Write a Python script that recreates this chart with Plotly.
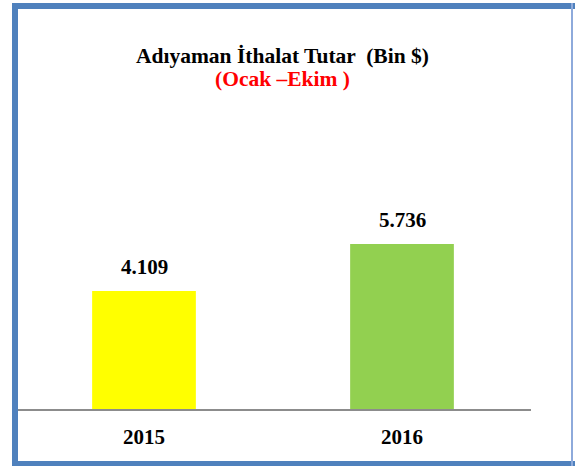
import plotly.graph_objects as go

years = ["2015", "2016"]
values = [4.109, 5.736]
value_labels = ["4.109", "5.736"]
bar_colors = ["#FFFF00", "#92D050"]

W, H = 575, 466
L, R_EDGE, T, B_EDGE = 15, 531, 100, 409
PW, PH = R_EDGE - L, B_EDGE - T

def px(x):
    return (x - L) / PW

def py(y):
    return (B_EDGE - y) / PH

fig = go.Figure()
fig.add_trace(go.Bar(x=years, y=values, marker=dict(color=bar_colors, line=dict(width=0)),
                     width=0.402, hoverinfo="skip"))

font_serif = "Liberation Serif, Times New Roman, serif"

for i, (v, lab) in enumerate(zip(values, value_labels)):
    fig.add_annotation(x=i, y=v, text="<b>%s</b>" % lab, showarrow=False,
                       yanchor="bottom", yshift=10,
                       font=dict(family=font_serif, size=21, color="black"))

fig.add_annotation(xref="paper", yref="paper", x=px(282), y=py(56), text="<b>Adıyaman İthalat Tutar  (Bin $)</b>",
                   showarrow=False, xanchor="center", yanchor="middle",
                   font=dict(family=font_serif, size=21.5, color="black"))
fig.add_annotation(xref="paper", yref="paper", x=px(282), y=py(79), text="<b>(Ocak –Ekim )</b>",
                   showarrow=False, xanchor="center", yanchor="middle",
                   font=dict(family=font_serif, size=21.5, color="#FF0000"))

blue = "#4F81BD"
shapes = [
    dict(type="rect", xref="paper", yref="paper", x0=px(12), x1=px(18), y0=py(3), y1=py(466),
         fillcolor=blue, line=dict(width=0), layer="above"),
    dict(type="rect", xref="paper", yref="paper", x0=px(12), x1=px(576), y0=py(3), y1=py(9),
         fillcolor=blue, line=dict(width=0), layer="above"),
    dict(type="rect", xref="paper", yref="paper", x0=px(12), x1=px(576), y0=py(461), y1=py(466),
         fillcolor=blue, line=dict(width=0), layer="above"),
    dict(type="rect", xref="paper", yref="paper", x0=px(571), x1=px(573), y0=py(3), y1=py(466),
         fillcolor="#8EAADB", line=dict(width=0), layer="above"),
]

fig.update_layout(
    width=W, height=H,
    margin=dict(l=L, r=W - R_EDGE, t=T, b=H - B_EDGE, pad=0),
    paper_bgcolor="white", plot_bgcolor="white",
    showlegend=False,
    shapes=shapes,
    xaxis=dict(type="category", range=[-0.5, 1.5], showgrid=False, zeroline=False,
               showline=True, linecolor="#8C8C8C", linewidth=2,
               ticks="outside", ticklen=8, tickcolor="rgba(0,0,0,0)",
               tickfont=dict(family=font_serif, size=21, color="black"),
               tickprefix="<b>", ticksuffix="</b>", fixedrange=True),
    yaxis=dict(range=[0, 10.75], showgrid=False, zeroline=False, showline=False,
               showticklabels=False, ticks="", fixedrange=True),
)

fig.write_html("out.html", config={"displayModeBar": False},
               post_script="document.body.style.margin='0';document.body.style.overflow='hidden';")
